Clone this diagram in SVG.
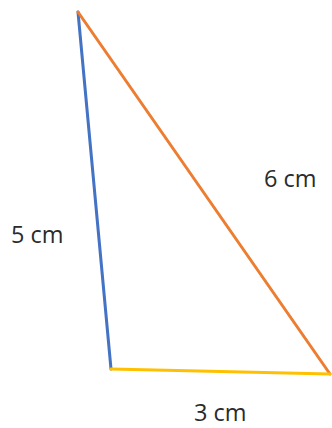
<svg xmlns="http://www.w3.org/2000/svg" width="332" height="428" viewBox="0 0 332 428">
<style>
.e{fill:none;stroke-width:3;stroke-linecap:round}
.t{font-family:"Open Sans","Liberation Sans",sans-serif;font-size:23.5px;fill:#2b2b2b}
</style>
<rect width="332" height="428" fill="#ffffff"/>
<g id="connectors">
<line id="side-5" class="e" x1="78" y1="12" x2="111" y2="369" stroke="#4472C4"/>
<line id="side-6" class="e" x1="78" y1="12" x2="330" y2="374" stroke="#ED7D31"/>
<line id="side-3" class="e" x1="111" y1="369" x2="330" y2="374" stroke="#FFC000"/>
</g>
<g id="label-5"><text class="t" x="11" y="243">5 cm</text></g>
<g id="label-6"><text class="t" x="264" y="187">6 cm</text></g>
<g id="label-3"><text class="t" x="194" y="421">3 cm</text></g>
</svg>
